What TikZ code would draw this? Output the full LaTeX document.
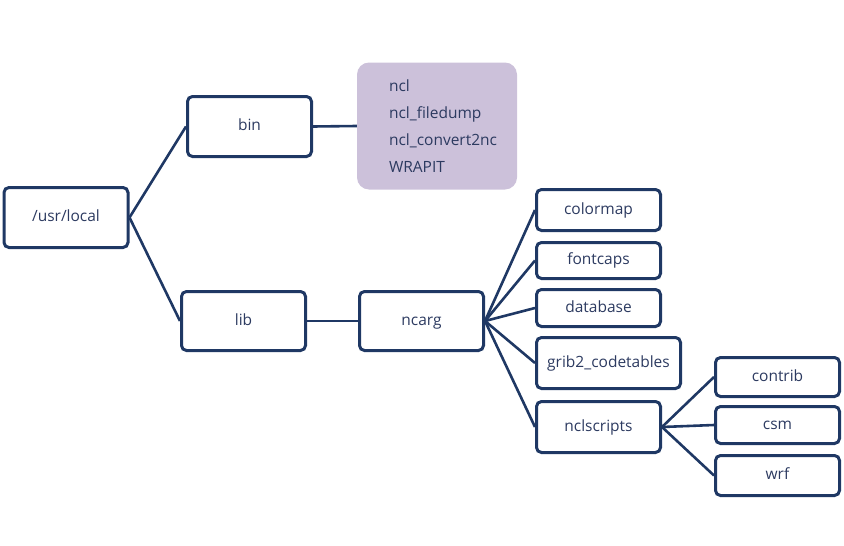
\documentclass[tikz,border=0pt]{standalone}
\usepackage{fontspec}
\setmainfont{Open Sans}
\usepackage{tikz}
\usetikzlibrary{positioning}
\definecolor{navy}{HTML}{1F3864}
\definecolor{inktext}{HTML}{2C3A60}
\definecolor{lilac}{HTML}{CCC1DA}
\tikzstyle{block} = [draw = navy, rectangle, line width = 3pt, rounded corners = 5pt, minimum width = 124pt, inner sep = 0pt, text = inktext, text height = 11pt, text depth = 3pt]
\tikzstyle{link} = [draw = navy, line width = 2.6pt]

\begin{document}
\begin{tikzpicture}[x = 1pt, y = -1pt, font = \fontsize{15.5}{18}\selectfont]
		
			\useasboundingbox (0,0) rectangle (844,546);
		
			% top levels
			\node[block, minimum height = 60pt] (usrlocal) at (66,217.5) {/usr/local};
			\node[block, minimum height = 60pt] (bin) at (249.5,126.5) {bin};
			\node[block, minimum height = 59pt] (lib) at (243.5,321) {lib};
			
			% programs in bin
			\node[fill = lilac, rounded corners = 12pt, minimum width = 160pt, minimum height = 127pt, inner xsep = 32pt, text width = 96pt, align = left, text = inktext, font = \fontsize{15.5}{27}\selectfont] (tools) at (437,126) {ncl\\ncl\_filedump\\ncl\_convert2nc\\WRAPIT};
			
			% ncarg and its folders
			\node[block, minimum height = 59pt] (ncarg) at (421.5,321) {ncarg};
			\node[block, minimum height = 41pt] (colormap) at (598.5,210) {colormap};
			\node[block, minimum height = 36pt] (fontcaps) at (598.5,260.5) {fontcaps};
			\node[block, minimum height = 37pt] (database) at (598.5,308) {database};
			\node[block, minimum height = 51pt, minimum width = 144pt] (grib) at (608.5,363) {grib2\_codetables};
			\node[block, minimum height = 51pt] (nclscripts) at (598.5,427) {nclscripts};
			
			% nclscripts folders
			\node[block, minimum height = 39pt] (contrib) at (777.5,377) {contrib};
			\node[block, minimum height = 37pt] (csm) at (777.5,425) {csm};
			\node[block, minimum height = 40pt] (wrf) at (777.5,475.5) {wrf};
			
			% Connect all nodes defined above
			\draw[link] (usrlocal.east) -- (bin.west);
			\draw[link] (usrlocal.east) -- (lib.west);
			\draw[link] (bin.east) -- (tools.west);
			\draw[link] (lib.east) -- (ncarg.west);
			\foreach \dir in {colormap, fontcaps, database, grib, nclscripts}
				\draw[link] (ncarg.east) -- (\dir.west);
			\foreach \dir in {contrib, csm, wrf}
				\draw[link] (nclscripts.east) -- (\dir.west);
		
		\end{tikzpicture}
\end{document}
